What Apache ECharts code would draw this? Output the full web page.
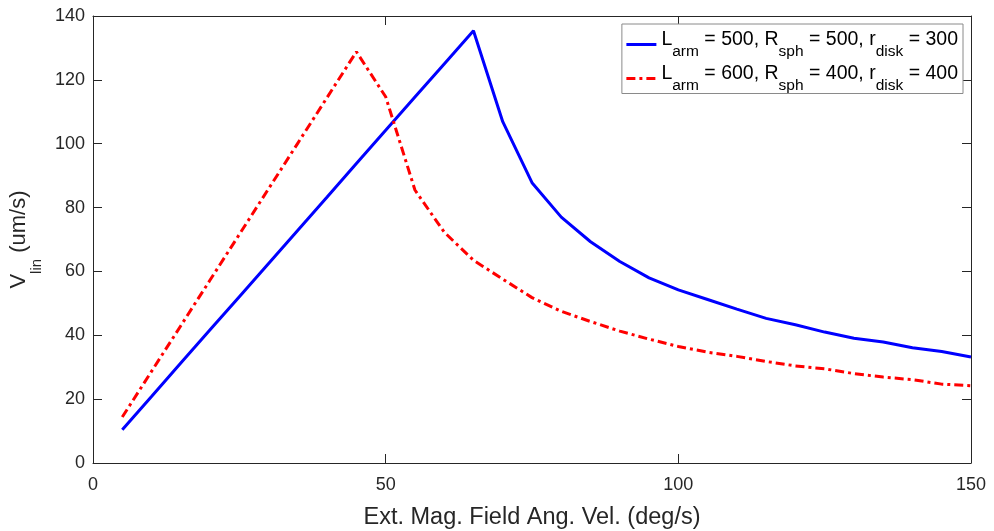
<!DOCTYPE html>
<html>
<head>
<meta charset="utf-8">
<title>Linear velocity vs. field angular velocity</title>
<script src="https://cdn.jsdelivr.net/npm/echarts@6/dist/echarts.min.js"></script>
<style>
  html, body { margin: 0; padding: 0; background: #ffffff; }
  #chart { width: 994px; height: 531px; }
</style>
</head>
<body>
<div id="chart"></div>
<script>
// Field angular velocity (deg/s)
const angVel = [5, 10, 15, 20, 25, 30, 35, 40, 45, 50, 55, 60, 65, 70, 75,
                80, 85, 90, 95, 100, 105, 110, 115, 120, 125, 130, 135, 140, 145, 150];

// Linear velocity (um/s), L_arm = 500, R_sph = 500, r_disk = 300
const vlinA = [10.4, 20.8, 31.3, 41.7, 52.1, 62.5, 72.9, 83.3, 93.8, 104.2,
               114.6, 125.0, 135.4, 106.9, 87.8, 77.0, 69.3, 63.1, 58.0, 54.2,
               51.2, 48.2, 45.3, 43.3, 41.0, 39.1, 37.9, 36.1, 34.9, 33.2];

// Linear velocity (um/s), L_arm = 600, R_sph = 400, r_disk = 400
const vlinB = [14.4, 28.7, 43.0, 57.3, 71.6, 85.9, 100.2, 114.5, 128.8, 114.7,
               85.5, 72.3, 63.5, 57.6, 51.8, 47.5, 44.3, 41.3, 38.8, 36.5,
               34.7, 33.4, 31.8, 30.4, 29.5, 28.0, 26.9, 26.1, 24.7, 24.2];

const xTicks = [0, 50, 100, 150];
const yTicks = [0, 20, 40, 60, 80, 100, 120, 140];

const nameA = '{m|L}{s|arm}{m| = 500, R}{s|sph}{m| = 500, r}{s|disk}{m| = 300}';
const nameB = '{m|L}{s|arm}{m| = 600, R}{s|sph}{m| = 400, r}{s|disk}{m| = 400}';

const ink = '#262626';
const font = '"Liberation Sans", Arial, Helvetica, sans-serif';

const pairs = (xs, ys) => xs.map((x, i) => [x, ys[i]]);

const tickFmt = (list) => (v) => (list.indexOf(v) >= 0 ? String(v) : '');

const baseAxis = {
  type: 'value',
  axisLine: { show: true, onZero: false, lineStyle: { color: ink, width: 1 } },
  axisTick: { show: true, inside: true, length: 9, lineStyle: { color: ink, width: 1 } },
  splitLine: { show: false },
  minorTick: { show: false }
};

const chart = echarts.init(document.getElementById('chart'), null, { renderer: 'canvas' });

chart.setOption({
  animation: false,
  backgroundColor: '#ffffff',
  textStyle: { fontFamily: font },
  grid: { left: 93, right: 23, top: 16, bottom: 68, containLabel: false, outerBoundsMode: 'none' },
  xAxis: [
    Object.assign({}, baseAxis, {
      position: 'bottom',
      min: xTicks[0], max: xTicks[xTicks.length - 1], interval: 50,
      name: 'Ext. Mag. Field Ang. Vel. (deg/s)',
      nameLocation: 'middle',
      nameGap: 43,
      nameTextStyle: { color: ink, fontSize: 23.5, fontFamily: font },
      axisLabel: { color: ink, fontSize: 18, fontFamily: font, margin: 13, formatter: tickFmt(xTicks) }
    }),
    Object.assign({}, baseAxis, {
      position: 'top',
      min: xTicks[0], max: xTicks[xTicks.length - 1], interval: 50,
      axisLabel: { show: false }
    })
  ],
  yAxis: [
    Object.assign({}, baseAxis, {
      position: 'left',
      min: yTicks[0], max: yTicks[yTicks.length - 1], interval: 20,
      name: '{v|V}{s|lin}{v| (um/s)}',
      nameLocation: 'middle',
      nameRotate: 90,
      nameGap: 43.5,
      nameTextStyle: {
        color: ink, fontFamily: font,
        rich: {
          v: { fontSize: 22, color: ink, fontFamily: font, verticalAlign: 'top' },
          s: { fontSize: 15, color: ink, fontFamily: font, padding: [21, 0, 0, 0] }
        }
      },
      axisLabel: { color: ink, fontSize: 18, fontFamily: font, margin: 8, formatter: tickFmt(yTicks) }
    }),
    Object.assign({}, baseAxis, {
      position: 'right',
      min: yTicks[0], max: yTicks[yTicks.length - 1], interval: 20,
      axisLabel: { show: false }
    })
  ],
  legend: {
    right: 31,
    top: 24,
    orient: 'vertical',
    align: 'left',
    backgroundColor: '#ffffff',
    borderColor: '#8a8a8a',
    borderWidth: 1,
    borderRadius: 0,
    padding: [5.5, 5, 0, 3],
    itemGap: 4,
    itemWidth: 30,
    itemHeight: 14,
    itemStyle: { opacity: 0 },
    lineStyle: { width: 3 },
    textStyle: {
      color: '#000000',
      fontFamily: font,
      rich: {
        m: { fontSize: 19.5, color: '#000000', fontFamily: font, verticalAlign: 'top' },
        s: { fontSize: 15.5, color: '#000000', fontFamily: font, padding: [14, 0, 0, 0] }
      }
    },
    data: [nameA, nameB]
  },
  series: [
    {
      name: nameA,
      type: 'line',
      xAxisIndex: 0,
      yAxisIndex: 0,
      data: pairs(angVel, vlinA),
      symbol: 'none',
      smooth: false,
      lineStyle: { color: '#0000ff', width: 3, type: 'solid' },
      itemStyle: { color: '#0000ff' },
      z: 3
    },
    {
      name: nameB,
      type: 'line',
      xAxisIndex: 0,
      yAxisIndex: 0,
      data: pairs(angVel, vlinB),
      symbol: 'none',
      smooth: false,
      lineStyle: { color: '#ff0000', width: 3, type: [9, 4, 3, 4] },
      itemStyle: { color: '#ff0000' },
      z: 3
    }
  ]
});
</script>
</body>
</html>
